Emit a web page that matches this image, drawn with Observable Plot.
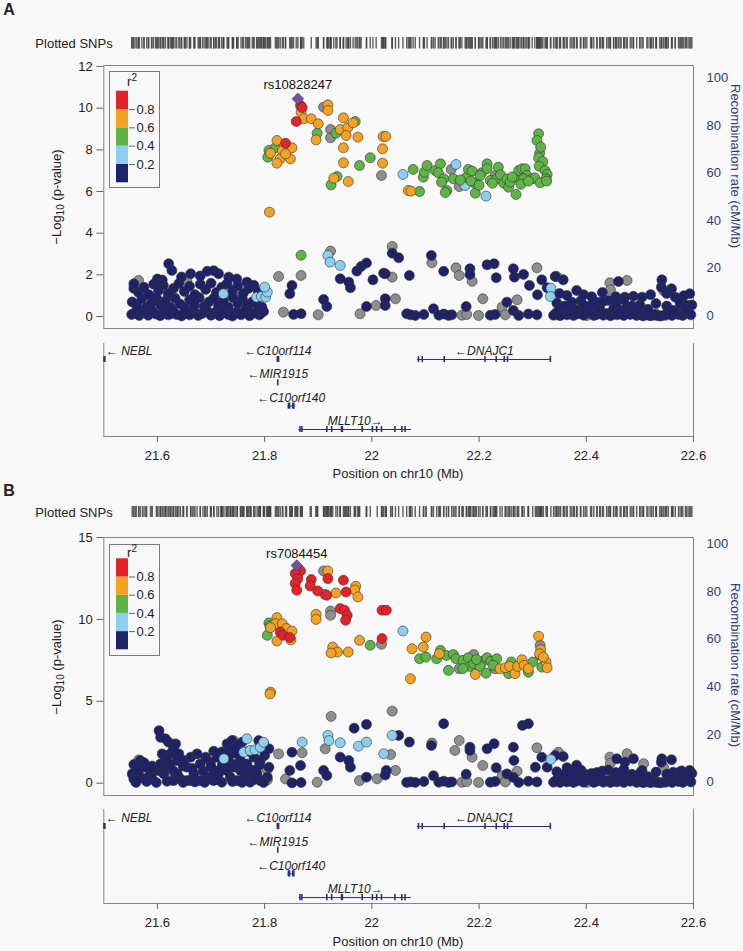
<!DOCTYPE html>
<html><head><meta charset="utf-8">
<script src="https://cdn.jsdelivr.net/npm/d3@7"></script>
<script src="https://cdn.jsdelivr.net/npm/@observablehq/plot@0.6"></script>
<style>
body{margin:0;background:#f8f8f8;font-family:"Liberation Sans",Arial,sans-serif;color:#222;}
#wrap{position:relative;width:743px;height:951px;overflow:hidden;}
</style></head><body><div id="wrap"></div>
<script>
// ---------- shared data ----------
const X_DOMAIN = [21.5, 22.6];
const xTicks = [21.6, 21.8, 22.0, 22.2, 22.4, 22.6];
const r2Breaks = [0, 0.2, 0.4, 0.6, 0.8, 1];
const r2Colors = ["#1e2268", "#8ccfee", "#5fb447", "#f4a224", "#e5222a"];
const grayColor = "#8e8e8e";
const leadColor = "#7a4f9f";
const recColor = "#2b3c82";
const recombTicks = [0, 20, 40, 60, 80, 100];
const yTicksA = [0, 2, 4, 6, 8, 10, 12];
const yTicksB = [0, 5, 10, 15];
const legendTicks = [0.2, 0.4, 0.6, 0.8];

const genes = ["NEBL", "C10orf114", "MIR1915", "C10orf140", "MLLT10", "DNAJC1"];
const geneStart = [21.40, 21.8236, 21.8243, 21.8435, 21.864, 22.085];
const geneEnd = [21.5025, 21.8262, 21.8247, 21.8555, 22.074, 22.335];
const geneStrand = ["-", "-", "-", "-", "+", "-"];
const geneRow = [0, 0, 1, 2, 3, 0];
const exonGene = ["NEBL","NEBL","C10orf114","C10orf114","MIR1915",
  "C10orf140","C10orf140","C10orf140","C10orf140",
  "MLLT10","MLLT10","MLLT10","MLLT10","MLLT10","MLLT10","MLLT10","MLLT10","MLLT10","MLLT10","MLLT10","MLLT10","MLLT10",
  "DNAJC1","DNAJC1","DNAJC1","DNAJC1","DNAJC1","DNAJC1","DNAJC1","DNAJC1"];
const exonPos = [21.5005, 21.502, 21.8238, 21.826, 21.8245,
  21.8445, 21.8465, 21.8525, 21.8545,
  21.866, 21.8695, 21.916, 21.925, 21.9435, 21.945, 21.982, 22.001, 22.009, 22.018, 22.043, 22.056, 22.062,
  22.087, 22.094, 22.135, 22.211, 22.232, 22.247, 22.253, 22.333];

// ---------- panel A data: [position Mb, -log10 p] ----------
const leadA = [21.862, 10.45];
const leadNameA = "rs10828247";
const redA = [[21.867,10.13],[21.870,10.03],[21.859,9.36],[21.839,8.32]];
const orangeA = [[21.868,9.81],[21.873,9.49],[21.887,9.49],[21.900,9.25],[21.918,10.16],[21.918,9.89],[21.896,8.48],[21.941,8.98],[21.947,9.54],[21.955,9.06],[21.952,8.69],[21.974,8.61],[21.947,8.10],[21.947,7.38],[22.021,8.64],[22.026,8.64],[22.020,8.05],[22.020,7.36],[22.068,6.05],[21.929,6.64],[21.956,6.48],[21.823,8.45],[21.851,8.10],[21.811,7.84],[21.833,7.97],[21.829,7.57],[21.848,7.57],[21.823,7.36],[21.839,7.81],[21.809,5.01],[22.073,6.02],[21.965,9.30]];
const greenA = [[21.898,8.80],[21.933,8.80],[21.969,9.36],[21.977,7.25],[21.997,7.62],[21.935,6.72],[21.924,6.32],[21.808,7.97],[21.820,8.10],[21.806,7.65],[21.868,2.94],
 [22.089,6.00],[22.077,7.06],[22.096,6.69],[22.098,6.93],[22.103,7.25],[22.118,7.01],[22.128,7.33],[22.124,6.90],[22.134,6.61],[22.152,6.61],[22.140,6.05],[22.137,5.95],[22.130,6.45],[22.177,6.69],[22.180,7.06],[22.187,6.98],[22.193,6.37],[22.185,6.50],[22.193,5.92],[22.202,6.77],[22.215,7.33],[22.215,7.10],[22.221,6.53],[22.233,6.61],[22.236,7.17],[22.240,6.80],[22.246,6.40],[22.252,6.60],[22.255,6.21],[22.258,6.45],[22.269,5.86],[22.271,6.69],[22.274,7.01],[22.280,7.09],[22.286,7.09],[22.289,6.77],[22.283,6.61],[22.278,6.35],[22.299,6.61],[22.304,6.65],[22.311,8.77],[22.308,8.45],[22.315,8.13],[22.311,7.62],[22.319,7.44],[22.312,7.22],[22.323,7.01],[22.327,6.82],[22.325,6.61],[22.314,6.42],[22.326,6.50],[22.165,6.55],[22.200,6.30],[22.225,6.40],[22.262,6.70],[22.292,6.50]];
const lblueA = [[21.723,1.09],[21.785,0.93],[21.794,0.96],[21.802,0.93],[21.805,1.17],[21.800,1.41],[21.918,2.93],[21.922,2.61],[21.941,2.45],[22.334,1.36],[22.333,0.96],[22.058,6.82],[22.157,7.30],[22.174,6.29],[22.213,5.78]];
const grayA = [[21.565,1.73],[21.627,0.13],[21.655,1.73],[21.742,1.01],[21.798,1.17],[21.792,0.13],[21.826,1.92],[21.868,1.97],[21.835,0.21],[21.900,0.08],[21.978,0.13],[22.008,0.53],[21.923,3.14],[22.038,3.36],[22.112,2.58],[22.038,1.89],[22.157,2.34],[22.163,1.97],[22.187,1.69],[22.308,2.34],[22.044,0.85],[22.207,0.85],[22.271,0.80],[22.243,0.45],[22.345,1.92],[22.401,0.05],[22.444,1.62],[22.445,1.28],[22.476,1.73],[22.544,1.25],[22.575,0.40],[22.168,0.06],[22.177,0.10],[22.199,0.05],[22.249,0.08],[22.522,0.05],[22.530,0.12],[22.540,0.03],[22.548,0.06],
 [21.910,10.05],[21.923,8.98],[21.923,8.58],[22.018,6.77],[22.148,7.06],[22.163,6.24],[22.230,6.77],[22.313,7.84],[22.205,6.90]];
const navyA = [
 [21.552,0.10],[21.560,0.25],[21.566,0.05],[21.575,0.18],[21.583,0.06],[21.590,0.28],[21.597,0.12],[21.605,0.04],[21.612,0.22],[21.620,0.08],[21.628,0.30],[21.636,0.10],[21.645,0.03],[21.652,0.20],[21.660,0.08],[21.668,0.26],[21.676,0.05],[21.684,0.15],[21.692,0.30],[21.700,0.06],[21.708,0.20],[21.716,0.04],[21.724,0.28],[21.732,0.10],[21.740,0.02],[21.748,0.22],[21.756,0.08],[21.764,0.30],[21.772,0.04],[21.780,0.16],[21.790,0.08],[21.798,0.24],
 [21.553,0.70],[21.562,0.50],[21.571,0.85],[21.580,0.45],[21.589,0.65],[21.598,0.90],[21.606,0.55],[21.615,0.75],[21.624,0.45],[21.633,0.88],[21.642,0.60],[21.651,0.42],[21.660,0.80],[21.669,0.55],[21.678,0.90],[21.687,0.48],[21.696,0.70],[21.705,0.88],[21.714,0.52],[21.723,0.75],[21.732,0.45],[21.741,0.90],[21.750,0.62],[21.759,0.80],[21.768,0.48],[21.777,0.70],[21.786,0.55],[21.795,0.45],
 [21.556,1.35],[21.565,1.15],[21.575,1.40],[21.584,1.05],[21.593,1.55],[21.602,1.25],[21.611,1.50],[21.620,1.10],[21.630,1.35],[21.640,1.58],[21.650,1.20],[21.660,1.45],[21.670,1.05],[21.680,1.55],[21.690,1.30],[21.700,1.60],[21.710,1.15],[21.720,1.40],[21.730,1.58],[21.740,1.25],[21.750,1.48],[21.760,1.10],[21.770,1.35],[21.780,1.50],[21.788,1.20],
 [21.556,1.57],[21.600,1.80],[21.609,1.75],[21.621,2.53],[21.627,2.21],[21.645,1.90],[21.662,2.05],[21.680,1.95],[21.693,2.17],[21.705,2.20],[21.714,2.05],[21.733,1.89],[21.748,1.80],[21.767,1.65],
 [21.851,1.49],[21.847,1.09],[21.854,0.10],[21.868,0.13],[21.910,0.82],[21.916,0.48],[21.941,1.81],[21.957,1.65],[21.960,1.38],[21.972,2.18],[21.980,2.40],[21.990,2.57],[22.002,1.76],[22.022,2.08],[22.025,0.85],[22.025,0.53],[21.990,0.48],[22.065,0.13],
 [22.038,3.04],[22.050,2.82],[22.111,2.93],[22.025,2.05],[22.070,1.97],[22.134,2.17],[22.183,2.29],[22.183,2.02],[22.215,2.48],[22.228,2.53],[22.232,1.86],[22.264,2.29],[22.266,1.89],[22.283,2.02],[22.294,1.49],[22.317,1.76],[22.327,1.38],[22.309,1.04],[22.342,1.92],[22.357,1.76],[22.252,0.69],[22.264,0.29],[22.176,0.48],[22.115,0.37],[22.382,1.25],[22.364,1.01],[22.373,0.69],[22.420,0.69],[22.441,0.77],[22.451,0.37],[22.460,1.68],[22.472,0.93],[22.488,0.97],[22.504,0.93],[22.476,0.45],[22.541,1.76],[22.540,1.41],[22.559,1.33],[22.566,0.93],[22.578,0.77],[22.593,1.09],[22.590,0.53],
 [22.072,0.08],[22.081,0.05],[22.097,0.10],[22.125,0.06],[22.134,0.12],[22.143,0.05],[22.149,0.08],[22.221,0.06],[22.230,0.10],[22.274,0.05],[22.292,0.12],[22.308,0.08],
 [22.339,0.06],[22.345,0.20],[22.351,0.04],[22.358,0.15],[22.364,0.08],[22.370,0.22],[22.376,0.05],[22.383,0.12],[22.389,0.30],[22.395,0.06],[22.408,0.18],[22.414,0.05],[22.420,0.10],[22.426,0.25],[22.432,0.06],[22.438,0.14],[22.445,0.04],[22.451,0.20],[22.457,0.08],[22.463,0.12],[22.470,0.05],[22.482,0.10],[22.488,0.22],[22.494,0.05],[22.500,0.12],[22.506,0.03],[22.513,0.08],[22.519,0.04],[22.525,0.10],[22.531,0.05],[22.537,0.03],[22.547,0.08],[22.553,0.18],[22.560,0.05],[22.566,0.28],[22.572,0.10],[22.580,0.05],[22.587,0.20],[22.595,0.08],
 [22.345,0.65],[22.352,0.45],[22.360,0.50],[22.378,0.35],[22.390,0.75],[22.398,0.50],[22.410,0.55],[22.425,0.40],[22.430,0.70],[22.455,0.60],[22.465,0.30],[22.470,0.80],[22.485,0.50],[22.500,0.55],[22.515,0.35],[22.530,0.62],[22.550,0.50],[22.560,0.30],[22.575,0.65],[22.585,0.40],[22.597,0.55],
 [22.350,1.10],[22.395,1.05],[22.410,0.95],[22.430,1.15],[22.455,0.95],[22.520,1.05],[22.550,1.10],[22.582,1.00]];

// ---------- panel B data ----------
const leadB = [21.860, 13.29];
const leadNameB = "rs7084454";
const redB = [[21.867,12.96],[21.857,12.80],[21.862,12.49],[21.857,12.19],[21.860,11.78],[21.887,12.43],[21.885,12.04],[21.899,11.74],[21.916,11.47],[21.918,12.49],[21.947,12.39],[21.952,11.67],[21.941,10.66],[21.949,10.56],[21.954,10.25],[21.951,9.95],[22.019,10.56],[22.027,10.56],[22.019,8.83],[21.829,9.23],[21.834,9.03],[21.847,8.89]];
const orangeB = [[21.933,11.61],[21.918,12.96],[21.970,12.02],[21.968,11.80],[21.974,11.37],[21.896,10.31],[21.896,10.00],[21.977,8.72],[21.927,8.31],[21.936,8.01],[21.924,7.95],[21.956,8.01],[22.075,8.21],[22.072,6.38],
 [21.823,10.11],[21.820,9.74],[21.811,9.50],[21.833,9.74],[21.841,9.44],[21.851,9.29],[21.823,8.68],[21.849,8.75],[21.811,5.56],[21.810,5.45],
 [22.096,8.31],[22.101,8.92],[22.126,7.91],[22.193,6.64],[22.239,6.99],[22.249,7.05],[22.257,7.13],[22.267,6.69],[22.272,7.13],[22.280,7.54],[22.284,7.19],[22.292,6.99],[22.311,8.97],[22.315,8.15],[22.313,7.90],[22.325,7.40],[22.327,7.05],[22.320,7.70]];
const greenB = [[21.808,9.78],[21.810,9.60],[21.805,9.03],[21.997,8.42],[22.089,7.60],[22.101,7.70],[22.128,8.11],[22.121,7.60],[22.139,7.80],[22.152,7.85],[22.157,7.60],[22.143,6.89],[22.170,7.50],[22.180,7.66],[22.183,7.13],[22.190,7.30],[22.202,7.13],[22.213,6.72],[22.215,7.66],[22.222,7.45],[22.233,7.60],[22.255,6.69],[22.292,6.78],[22.300,7.40],[22.314,7.80],[22.317,7.09],[22.170,7.00],[22.226,7.20],[22.195,7.55],[22.260,7.40]];
const lblueB = [[21.767,2.71],[21.761,1.89],[21.773,2.00],[21.782,2.04],[21.792,2.20],[21.798,2.50],[21.724,1.49],[21.870,2.51],[21.918,2.92],[21.920,2.60],[21.941,2.47],[21.975,2.26],[21.990,2.51],[22.022,1.80],[22.038,2.92],[22.334,1.45],[22.058,9.29]];
const grayB = [[21.565,1.42],[21.826,1.79],[21.805,0.82],[21.805,0.20],[21.839,0.26],[21.870,1.86],[21.898,0.06],[21.913,2.10],[21.977,0.16],[22.010,0.27],[22.044,0.78],[21.924,4.08],[22.038,4.40],[21.627,0.20],[21.742,2.60],[22.112,2.45],[22.155,2.00],[22.163,2.61],[22.187,1.59],[22.207,1.08],[22.271,0.73],[22.243,0.45],[22.308,2.16],[22.348,1.89],[22.444,1.59],[22.445,1.22],[22.476,1.80],[22.507,1.19],[22.544,0.98],[22.401,0.05],[22.035,1.75],[22.168,0.06],[22.177,0.10],[22.199,0.05],[22.249,0.08],[22.522,0.05],[22.530,0.12],[22.540,0.03],[22.548,0.06],
 [21.912,11.53],[21.910,12.96],[21.923,10.51],[21.923,10.25],[22.018,8.48],[22.163,6.99],[22.190,7.85],[22.230,6.99],[22.314,8.42],[22.207,7.45]];
const navyB = [
 [21.556,1.14],[21.568,1.38],[21.553,0.57],[21.565,0.77],[21.578,0.98],[21.587,0.57],[21.556,0.26],[21.572,0.32],[21.590,0.26],[21.600,0.77],[21.606,1.18],[21.612,0.57],
 [21.603,3.21],[21.606,2.80],[21.615,2.71],[21.621,2.50],[21.634,2.40],[21.630,2.10],[21.624,1.79],[21.615,1.59],[21.640,1.79],[21.637,1.38],[21.624,1.18],[21.609,1.79],
 [21.649,1.38],[21.662,1.59],[21.674,1.79],[21.655,0.98],[21.668,0.57],[21.680,1.18],[21.690,1.59],[21.699,1.28],[21.705,0.77],[21.693,0.37],[21.680,0.16],[21.711,1.59],[21.721,1.14],[21.714,0.57],[21.705,0.16],[21.730,0.77],[21.736,0.37],[21.742,0.98],[21.662,0.16],[21.643,0.26],[21.637,0.57],[21.655,0.16],[21.630,0.16],
 [21.730,2.40],[21.739,2.60],[21.749,2.30],[21.758,2.50],[21.789,2.60],[21.798,2.44],[21.808,2.10],[21.736,2.00],[21.749,1.79],[21.733,1.59],[21.755,1.38],[21.767,1.18],[21.780,1.59],[21.792,1.38],[21.808,0.98],[21.786,0.57],[21.767,0.57],[21.755,0.77],[21.749,0.16],[21.761,0.26],[21.773,0.06],[21.792,0.16],[21.805,0.37],
 [21.560,0.05],[21.580,0.10],[21.598,0.04],[21.618,0.12],[21.648,0.05],[21.670,0.08],[21.688,0.05],[21.700,0.28],[21.720,0.06],[21.740,0.10],[21.758,0.05],[21.780,0.22],[21.798,0.04],
 [21.560,0.85],[21.575,1.25],[21.590,1.05],[21.615,0.90],[21.630,0.75],[21.648,1.05],[21.665,0.90],[21.685,0.75],[21.700,1.00],[21.718,0.85],[21.728,1.25],[21.745,1.15],[21.760,0.95],[21.775,0.80],[21.790,1.10],[21.800,1.70],[21.770,1.95],[21.720,1.90],[21.705,1.95],
 [21.967,3.36],[21.990,3.59],[22.050,2.92],[21.851,1.89],[21.847,0.78],[21.867,1.08],[21.851,0.02],[21.941,1.59],[21.957,1.38],[21.960,0.98],[21.910,0.78],[21.916,0.47],[21.990,0.37],[22.027,0.78],[22.025,0.50],[21.868,0.04],[22.065,0.05],
 [22.070,2.51],[22.134,3.63],[22.111,2.30],[22.183,2.20],[22.183,2.00],[22.215,2.10],[22.228,2.41],[22.232,0.94],[22.264,2.20],[22.265,1.39],[22.252,0.57],[22.281,3.53],[22.292,3.63],[22.317,1.59],[22.305,0.98],[22.327,0.98],[22.342,1.69],[22.357,1.63],[22.457,1.49],[22.472,1.28],[22.488,1.49],[22.504,0.78],[22.541,1.49],[22.540,1.28],[22.559,1.43],[22.562,0.67],[22.578,0.75],[22.593,0.78],[22.590,0.45],[22.176,0.55],[22.115,0.45],[22.264,0.35],[22.382,1.10],[22.364,0.95],[22.373,0.70],[22.420,0.65],[22.441,0.80],[22.451,0.40],[22.476,0.50],
 [22.072,0.08],[22.081,0.05],[22.097,0.10],[22.125,0.06],[22.134,0.12],[22.143,0.05],[22.149,0.08],[22.221,0.06],[22.230,0.10],[22.274,0.05],[22.292,0.12],[22.308,0.08],
 [22.339,0.06],[22.345,0.22],[22.351,0.04],[22.358,0.18],[22.364,0.08],[22.370,0.26],[22.376,0.05],[22.383,0.14],[22.389,0.34],[22.395,0.06],[22.408,0.20],[22.414,0.05],[22.420,0.12],[22.426,0.28],[22.432,0.06],[22.438,0.16],[22.445,0.04],[22.451,0.22],[22.457,0.08],[22.463,0.14],[22.470,0.05],[22.482,0.12],[22.488,0.25],[22.494,0.05],[22.500,0.14],[22.506,0.03],[22.513,0.08],[22.519,0.04],[22.525,0.12],[22.531,0.05],[22.537,0.03],[22.547,0.08],[22.553,0.20],[22.560,0.05],[22.566,0.30],[22.572,0.10],[22.580,0.05],[22.587,0.22],[22.595,0.08],
 [22.345,0.70],[22.352,0.50],[22.360,0.55],[22.378,0.40],[22.390,0.80],[22.398,0.55],[22.410,0.60],[22.425,0.45],[22.430,0.75],[22.455,0.65],[22.465,0.35],[22.470,0.85],[22.485,0.55],[22.500,0.60],[22.515,0.40],[22.530,0.68],[22.550,0.55],[22.560,0.35],[22.575,0.70],[22.585,0.45],[22.597,0.60]];

// ---------- helpers ----------
const wrap = document.getElementById("wrap");
const FONT = '"Liberation Sans", Arial, sans-serif';
function put(el, left, top) { el.style.position = "absolute"; el.style.left = left + "px"; el.style.top = top + "px"; wrap.appendChild(el); return el; }
function label(html, cx, cy, css, rot) {
  const d = document.createElement("div");
  d.innerHTML = html;
  d.style.cssText = "position:absolute;white-space:nowrap;line-height:1;font-size:13px;" + (css || "") +
    `left:${cx}px;top:${cy}px;transform:translate(-50%,-50%)` + (rot ? ` rotate(${rot}deg)` : "") + ";";
  wrap.appendChild(d);
  return d;
}
const svgStyle = {background: "transparent", fontFamily: FONT, fontSize: "13px", color: "#222", overflow: "visible"};

function panel(P) {
  label(P.letter, 9, P.letterY, "font-weight:bold;font-size:16px;");
  label("Plotted SNPs", 74, P.stripLabelY, "");
  const allPos = [...P.gray, ...P.navy, ...P.lblue, ...P.green, ...P.orange, ...P.red, P.lead].map(d => d[0]);
  const strip = Plot.plot({
    width: 743, height: P.stripH, marginLeft: 103.3, marginRight: 50, marginTop: 0, marginBottom: 0,
    x: {domain: X_DOMAIN, axis: null}, style: svgStyle,
    marks: [Plot.tickX(allPos, {x: d => d, stroke: "#444", strokeWidth: 1.4, strokeOpacity: 0.85})]
  });
  put(strip, 0, P.stripTop);

  const dot = (data, fill) => Plot.dot(data, {x: d => d[0], y: d => d[1], r: 5, fill, stroke: "#333", strokeWidth: 0.6});
  const main = Plot.plot({
    width: 743, height: P.mainH, marginLeft: 103.3, marginRight: 50, marginTop: 10, marginBottom: 5,
    x: {domain: X_DOMAIN, axis: null},
    y: {domain: P.yDomain},
    style: svgStyle,
    marks: [
      Plot.frame({stroke: "#858585"}),
      Plot.axisY({anchor: "left", ticks: P.yTicks, tickSize: 7, tickPadding: 4, fontSize: 13, label: null, stroke: "#666", fill: "#222"}),
      Plot.axisY({anchor: "right", ticks: recombTicks.map(P.rec2y), tickFormat: v => String(Math.round(P.y2rec(v))),
        tickSize: 0, tickPadding: 13, fontSize: 13, label: null, fill: recColor, stroke: "none"}),
      dot(P.gray, grayColor),
      dot(P.navy, r2Colors[0]),
      dot(P.lblue, r2Colors[1]),
      dot(P.green, r2Colors[2]),
      dot(P.orange, r2Colors[3]),
      dot(P.red, r2Colors[4]),
      Plot.dot([P.lead], {x: d => d[0], y: d => d[1], symbol: "diamond2", r: 5.2, fill: leadColor, stroke: "#333", strokeWidth: 0.6}),
      Plot.text([P.lead], {x: d => d[0], y: d => d[1], text: () => P.leadName, dy: P.leadDy, fontSize: 13, fill: "#111"})
    ]
  });
  put(main, 0, P.mainTop);

  label("&minus;Log<sub style='font-size:10px;vertical-align:-3px'>10</sub> (p-value)", 58, P.yTitleY, "", -90);
  label("Recombination rate (cM/Mb)", 735, P.recTitleY, `color:${recColor};`, 90);

  const lg = document.createElement("div");
  lg.style.cssText = `position:absolute;left:109px;top:${P.legTop}px;width:51px;height:${P.legH}px;border:1px solid #7a7a7a;box-sizing:border-box;`;
  wrap.appendChild(lg);
  const bins = r2Colors.map((c, i) => ({lo: r2Breaks[i], hi: r2Breaks[i + 1], c}));
  const lsvg = Plot.plot({
    width: 49, height: P.legH - 2, marginLeft: 6, marginRight: 31, marginTop: P.legBarTop, marginBottom: P.legBarBottom,
    x: {domain: [0, 1], axis: null}, y: {domain: [0, 1]}, style: svgStyle,
    marks: [
      Plot.rect(bins, {x1: () => 0, x2: () => 1, y1: "lo", y2: "hi", fill: "c"}),
      Plot.axisY({anchor: "right", ticks: legendTicks, tickSize: 6, tickPadding: 2, fontSize: 13, label: null,
        tickFormat: d => d.toFixed(1), stroke: "#666", fill: "#222"})
    ]
  });
  lsvg.style.position = "absolute"; lsvg.style.left = "0px"; lsvg.style.top = "0px";
  lg.appendChild(lsvg);
  label("r<sup style='font-size:10px;vertical-align:5px'>2</sup>", 132, P.r2Y, "");

  const gIdx = genes.map((g, i) => i);
  const rowOf = Object.fromEntries(genes.map((g, i) => [g, geneRow[i]]));
  const exIdx = exonPos.map((p, i) => i);
  const lbl = i => geneStrand[i] === "-" ? "\u2190" + genes[i] : genes[i] + "\u2192";
  const mid = i => (geneStart[i] + geneEnd[i]) / 2;
  const inside = gIdx.filter(i => mid(i) >= X_DOMAIN[0]);
  const clipped = gIdx.filter(i => mid(i) < X_DOMAIN[0]);
  const gt = Plot.plot({
    width: 743, height: P.geneH, marginLeft: 103.3, marginRight: 50, marginTop: 3, marginBottom: P.geneMB,
    x: {domain: X_DOMAIN}, y: {domain: P.geneDomain, axis: null}, style: svgStyle,
    marks: [
      Plot.ruleX(X_DOMAIN, {stroke: "#858585"}),
      Plot.ruleY([P.geneDomain[0]], {stroke: "#858585"}),
      Plot.ruleY(gIdx.filter(i => geneEnd[i] - geneStart[i] > 0.001), {y: i => geneRow[i], x1: i => geneStart[i], x2: i => geneEnd[i], stroke: "#2c2f80", strokeWidth: 1, clip: true}),
      Plot.ruleX(exIdx, {x: i => exonPos[i], y1: i => rowOf[exonGene[i]] - 0.13, y2: i => rowOf[exonGene[i]] + 0.13, stroke: "#2c2f80", strokeWidth: 1.6}),
      Plot.text(inside, {x: mid, y: i => geneRow[i], text: lbl, dy: P.geneDy, fontSize: 12, fontStyle: "italic", fill: "#222"}),
      Plot.text(clipped, {x: () => X_DOMAIN[0], y: i => geneRow[i], text: i => "\u2190 " + genes[i], dy: P.geneDy, dx: 2, textAnchor: "start", fontSize: 12, fontStyle: "italic", fill: "#222"}),
      Plot.axisX({ticks: xTicks, tickSize: 6, tickPadding: P.xPad, fontSize: 13, label: null, tickFormat: d => String(+d.toFixed(1)), stroke: "#666", fill: "#222"})
    ]
  });
  put(gt, 0, P.geneTop);
  label("Position on chr10 (Mb)", 398, P.xTitleY, "");
}

panel({
  letter: "A", letterY: 10, stripLabelY: 43, stripTop: 37, stripH: 11.5,
  mainTop: 55, mainH: 278, yDomain: [-0.576, 12.05], yTicks: yTicksA,
  rec2y: r => 0.048 + 0.11392 * r, y2rec: v => (v - 0.048) / 0.11392,
  gray: grayA, navy: navyA, lblue: lblueA, green: greenA, orange: orangeA, red: redA, lead: leadA, leadName: leadNameA, leadDy: -13.5,
  yTitleY: 197, recTitleY: 166,
  legTop: 71, legH: 117, legBarTop: 18.7, legBarBottom: 4.7, r2Y: 80,
  geneTop: 340, geneH: 130, geneMB: 34, geneDomain: [3.3, -0.686], geneDy: -8.5, xPad: 8,
  xTitleY: 473
});
panel({
  letter: "B", letterY: 491, stripLabelY: 512, stripTop: 506, stripH: 11,
  mainTop: 527, mainH: 273, yDomain: [-0.75, 15], yTicks: yTicksB,
  rec2y: r => 0.061 + 0.14542 * r, y2rec: v => (v - 0.061) / 0.14542,
  gray: grayB, navy: navyB, lblue: lblueB, green: greenB, orange: orangeB, red: redB, lead: leadB, leadName: leadNameB, leadDy: -12,
  yTitleY: 667, recTitleY: 665,
  legTop: 544, legH: 112, legBarTop: 13.3, legBarBottom: 5.7, r2Y: 551,
  geneTop: 806, geneH: 130, geneMB: 33, geneDomain: [3.25, -0.718], geneDy: -8, xPad: 8.5,
  xTitleY: 941
});
</script></body></html>
